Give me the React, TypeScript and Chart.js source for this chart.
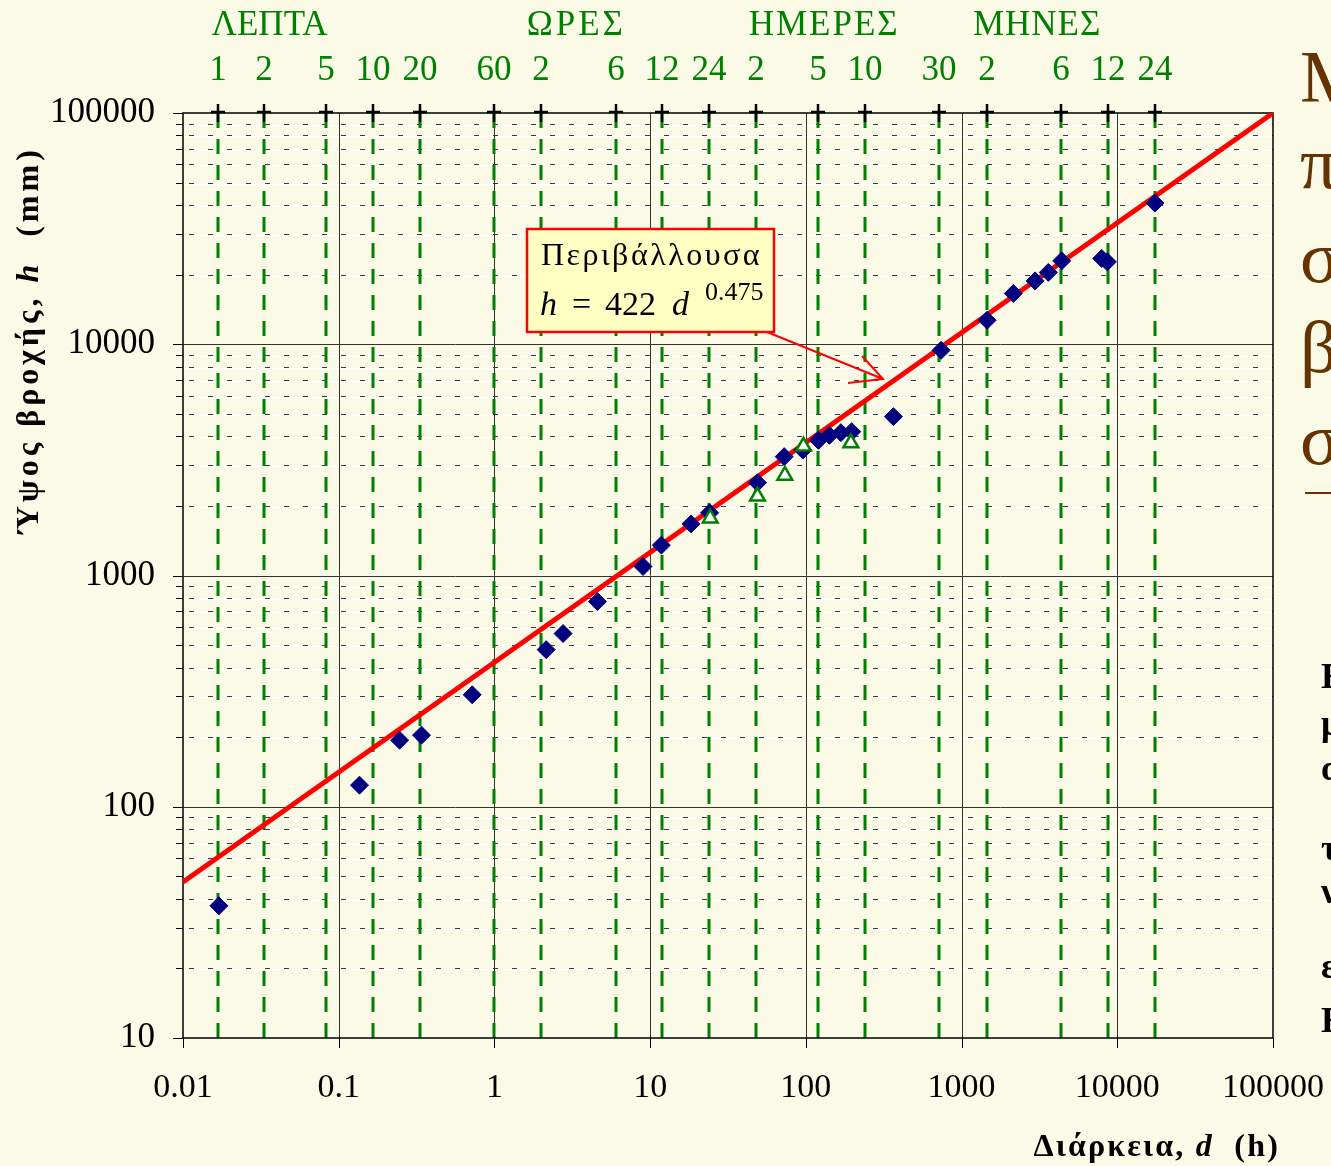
import React, { useEffect, useRef } from "react";
import { Chart, registerables } from "chart.js";

Chart.register(...registerables);

const W = 1331;
const H = 1166;
const BG = "#FAFAE6";
const SERIF = '"Liberation Serif", "Times New Roman", Times, serif';

// Observed maximum rainfall depths (diamonds): duration d (h), depth h (mm)
const diamondDuration = [
  0.017, 0.136, 0.246, 0.34, 0.72, 2.15, 2.76, 4.59, 9.0, 11.8, 18.3, 24.1,
  48.9, 72.6, 95.7, 120.5, 141.7, 167.8, 197, 365, 739, 1458, 2150, 2965, 3607,
  4397, 7943, 8630, 17460,
];
const diamondDepth = [
  37.3, 124, 194, 204, 305, 478, 561, 771, 1094, 1353, 1671, 1868, 2519, 3265,
  3486, 3841, 4036, 4147, 4188, 4864, 9418, 12700, 16580, 18790, 20440, 22940,
  23500, 22710, 40770,
];
// Second set (triangles)
const triangleDuration = [24.3, 48.9, 73.3, 96.5, 194.5];
const triangleDepth = [1770, 2200, 2710, 3620, 3740];
// Envelope line end points
const envelopeDuration = [0.01, 100000];
const envelopeDepth = [47.3, 100000];

const xTickValues = [0.01, 0.1, 1, 10, 100, 1000, 10000, 100000];
const yTickValues = [10, 100, 1000, 10000, 100000];

const minuteMarks = [1, 2, 5, 10, 20, 60];
const hourMarks = [2, 6, 12, 24];
const dayMarks = [2, 5, 10, 30];
const monthMarks = [2, 6, 12, 24];
const groupNames = ["ΛΕΠΤΑ", "ΩΡΕΣ", "ΗΜΕΡΕΣ", "ΜΗΝΕΣ"];
const HOURS_PER_MONTH = 730;

const annotationTitle = "Περιβάλλουσα";
const envelopeCoef = "422";
const envelopeExp = "0.475";

const sideBrown = ["Μ", "π", "σ", "β", "σ"];
const sideBlack = ["Ε", "μ", "α", "τ", "ν", "ε", "Ε"];

const groups = [
  { name: groupNames[0], marks: minuteMarks, factor: 1 / 60 },
  { name: groupNames[1], marks: hourMarks, factor: 1 },
  { name: groupNames[2], marks: dayMarks, factor: 24 },
  { name: groupNames[3], marks: monthMarks, factor: HOURS_PER_MONTH },
];

type Part = { text: string; font: string };

function drawParts(ctx: any, parts: Part[], x: number, y: number, align: "left" | "center" | "right", spacing = 0) {
  ctx.letterSpacing = `${spacing}px`;
  let total = 0;
  const widths = parts.map((p) => {
    ctx.font = p.font;
    const w = ctx.measureText(p.text).width;
    total += w;
    return w;
  });
  let cx = align === "left" ? x : align === "center" ? x - total / 2 : x - total;
  ctx.textAlign = "left";
  parts.forEach((p, i) => {
    ctx.font = p.font;
    ctx.fillText(p.text, cx, y);
    cx += widths[i];
  });
  ctx.letterSpacing = "0px";
}

const decorPlugin = {
  id: "decor",
  beforeDatasetsDraw(chart: any) {
    const { ctx, chartArea: a, scales } = chart;
    const xs = scales.x;
    const ys = scales.y;
    ctx.save();
    // minor horizontal grid
    for (let e = 1; e < 5; e++) {
      for (let k = 2; k <= 9; k++) {
        const y = Math.round(ys.getPixelForValue(k * Math.pow(10, e))) + 0.5;
        ctx.setLineDash([]);
        ctx.strokeStyle = "#FFFFFF";
        ctx.lineWidth = 1.5;
        ctx.beginPath();
        ctx.moveTo(a.left, y + 1);
        ctx.lineTo(a.right, y + 1);
        ctx.stroke();
        ctx.strokeStyle = "#3a3a3a";
        ctx.lineWidth = 1;
        ctx.setLineDash([5, 14]);
        ctx.beginPath();
        ctx.moveTo(a.left + 6, y);
        ctx.lineTo(a.right, y);
        ctx.stroke();
      }
    }
    ctx.setLineDash([]);
    // major grid
    ctx.strokeStyle = "#333333";
    ctx.lineWidth = 1;
    xTickValues.slice(1, -1).forEach((v) => {
      const x = Math.round(xs.getPixelForValue(v)) + 0.5;
      ctx.beginPath();
      ctx.moveTo(x, a.top);
      ctx.lineTo(x, a.bottom);
      ctx.stroke();
    });
    yTickValues.slice(1, -1).forEach((v) => {
      const y = Math.round(ys.getPixelForValue(v)) + 0.5;
      ctx.beginPath();
      ctx.moveTo(a.left, y);
      ctx.lineTo(a.right, y);
      ctx.stroke();
    });
    // green duration lines (dashes phased from the bottom axis)
    ctx.strokeStyle = "#008000";
    ctx.lineWidth = 3;
    ctx.setLineDash([15, 11]);
    groups.forEach((g) => {
      g.marks.forEach((m) => {
        const x = Math.round(xs.getPixelForValue(m * g.factor));
        ctx.beginPath();
        ctx.moveTo(x, a.bottom);
        ctx.lineTo(x, a.top);
        ctx.stroke();
      });
    });
    ctx.setLineDash([]);
    // frame
    ctx.strokeStyle = "#000000";
    ctx.lineWidth = 1.5;
    ctx.strokeRect(a.left, a.top, a.right - a.left, a.bottom - a.top);
    // y axis ticks
    ctx.lineWidth = 1;
    for (let e = 1; e <= 5; e++) {
      for (let k = 1; k <= 9; k++) {
        const v = k * Math.pow(10, e);
        if (v > 100000) break;
        const y = Math.round(ys.getPixelForValue(v)) + 0.5;
        ctx.beginPath();
        ctx.moveTo(a.left - (k === 1 ? 10 : 7), y);
        ctx.lineTo(a.left, y);
        ctx.stroke();
      }
    }
    // x axis ticks (decades)
    xTickValues.forEach((v) => {
      const x = Math.round(xs.getPixelForValue(v)) + 0.5;
      ctx.beginPath();
      ctx.moveTo(x, a.bottom);
      ctx.lineTo(x, a.bottom + 10);
      ctx.stroke();
    });
    ctx.restore();
  },
  afterDatasetsDraw(chart: any) {
    const { ctx } = chart;
    ctx.save();
    // annotation box
    const bx = 527, by = 229, bw = 247, bh = 103;
    ctx.fillStyle = "#FFFFC4";
    ctx.fillRect(bx, by, bw, bh);
    ctx.strokeStyle = "#FF0000";
    ctx.lineWidth = 2.5;
    ctx.strokeRect(bx, by, bw, bh);
    ctx.fillStyle = "#000000";
    ctx.textBaseline = "alphabetic";
    drawParts(ctx, [{ text: annotationTitle, font: `32px ${SERIF}` }], bx + bw / 2 + 1, by + 36, "center", 2.5);
    ctx.textAlign = "left";
    ctx.font = `italic 34px ${SERIF}`;
    ctx.fillText("h", bx + 13, by + 86);
    ctx.font = `34px ${SERIF}`;
    ctx.fillText("=", bx + 45, by + 86);
    ctx.fillText(envelopeCoef, bx + 78, by + 86);
    ctx.font = `italic 34px ${SERIF}`;
    ctx.fillText("d", bx + 145, by + 86);
    ctx.font = `26px ${SERIF}`;
    ctx.fillText(envelopeExp, bx + 178, by + 71);
    // arrow
    ctx.strokeStyle = "#FF0000";
    ctx.lineWidth = 2;
    ctx.beginPath();
    ctx.moveTo(bx + 240, by + bh);
    ctx.lineTo(883, 379);
    ctx.moveTo(862, 356);
    ctx.lineTo(883, 379);
    ctx.lineTo(848, 383);
    ctx.stroke();
    ctx.restore();
  },
  afterDraw(chart: any) {
    const { ctx, chartArea: a, scales } = chart;
    const xs = scales.x;
    ctx.save();
    // top "+" marks and labels
    ctx.textBaseline = "alphabetic";
    ctx.textAlign = "center";
    const groupOffsets = [52, 35, 68, 50];
    const groupSpacing = [0, 3, 2, 1];
    groups.forEach((g, gi) => {
      g.marks.forEach((m) => {
        const x = Math.round(xs.getPixelForValue(m * g.factor));
        ctx.fillStyle = "#008000";
        ctx.font = `35px ${SERIF}`;
        ctx.textAlign = "center";
        ctx.fillText(String(m), x, 80);
        ctx.strokeStyle = "#000000";
        ctx.lineWidth = 2.5;
        ctx.beginPath();
        ctx.moveTo(x, a.top - 9);
        ctx.lineTo(x, a.top + 9);
        ctx.moveTo(x - 7, a.top - 1);
        ctx.lineTo(x + 7, a.top - 1);
        ctx.stroke();
      });
      const x0 = xs.getPixelForValue(g.marks[0] * g.factor);
      ctx.fillStyle = "#008000";
      drawParts(ctx, [{ text: g.name, font: `35px ${SERIF}` }], x0 + groupOffsets[gi], 35, "center", groupSpacing[gi]);
    });
    // axis titles
    ctx.fillStyle = "#000000";
    ctx.save();
    ctx.translate(38, 340);
    ctx.rotate(-Math.PI / 2);
    drawParts(
      ctx,
      [
        { text: "Ύψος βροχής, ", font: `bold 32px ${SERIF}` },
        { text: "h", font: `bold italic 32px ${SERIF}` },
        { text: "  (mm)", font: `bold 32px ${SERIF}` },
      ],
      0,
      0,
      "center",
      4
    );
    ctx.restore();
    drawParts(
      ctx,
      [
        { text: "Διάρκεια, ", font: `bold 32px ${SERIF}` },
        { text: "d", font: `bold italic 32px ${SERIF}` },
        { text: "  (h)", font: `bold 32px ${SERIF}` },
      ],
      1280,
      1156,
      "right",
      2.2
    );
    // clipped slide text at the right
    ctx.fillStyle = "#663300";
    ctx.font = `74px ${SERIF}`;
    ctx.textAlign = "left";
    const brownBase = [102, 188, 282, 372, 464];
    sideBrown.forEach((c, i) => ctx.fillText(c, 1300, brownBase[i]));
    ctx.fillRect(1305, 492, 30, 2);
    ctx.fillStyle = "#000000";
    ctx.font = `bold 36px ${SERIF}`;
    const blackBase = [688, 735, 780, 860, 903, 978, 1032];
    sideBlack.forEach((c, i) => ctx.fillText(c, 1321, blackBase[i]));
    ctx.restore();
  },
};

export default function App() {
  const ref = useRef<HTMLCanvasElement>(null);
  useEffect(() => {
    document.body.style.margin = "0";
    const canvas = ref.current;
    if (!canvas) return;
    const chart = new Chart(canvas, {
      type: "scatter",
      data: {
        datasets: [
          {
            label: "triangles",
            data: triangleDuration.map((d, i) => ({ x: d, y: triangleDepth[i] })),
            pointStyle: "triangle",
            pointRadius: 8.5,
            pointBackgroundColor: "#FFFFFF",
            pointBorderColor: "#008000",
            pointBorderWidth: 2.5,
            showLine: false,
          },
          {
            label: "diamonds",
            data: diamondDuration.map((d, i) => ({ x: d, y: diamondDepth[i] })),
            pointStyle: "rectRot",
            pointRadius: 9,
            pointBackgroundColor: "#000080",
            pointBorderColor: "#000080",
            pointBorderWidth: 1,
            showLine: false,
          },
          {
            label: "envelope",
            data: envelopeDuration.map((d, i) => ({ x: d, y: envelopeDepth[i] })),
            showLine: true,
            borderColor: "#FF0000",
            borderWidth: 5,
            pointRadius: 0,
            fill: false,
          },
        ],
      } as any,
      options: {
        animation: false,
        responsive: false,
        devicePixelRatio: 1,
        events: [],
        layout: { padding: { top: 113, right: 58, bottom: 0, left: 0 } },
        plugins: { legend: { display: false }, tooltip: { enabled: false } },
        scales: {
          x: {
            type: "logarithmic",
            min: 0.01,
            max: 100000,
            afterBuildTicks: (s: any) => {
              s.ticks = xTickValues.map((v) => ({ value: v }));
            },
            afterFit: (s: any) => {
              s.height = 128;
            },
            grid: { display: false, drawTicks: true, tickLength: 30 },
            border: { display: false },
            ticks: {
              padding: 0,
              autoSkip: false,
              maxRotation: 0,
              color: "#000000",
              font: { family: SERIF, size: 34 },
              callback: (v: any) => String(v),
            },
          },
          y: {
            type: "logarithmic",
            min: 10,
            max: 100000,
            afterBuildTicks: (s: any) => {
              s.ticks = yTickValues.map((v) => ({ value: v }));
            },
            afterFit: (s: any) => {
              s.width = 183;
            },
            grid: { display: false, drawTicks: true, tickLength: 28 },
            border: { display: false },
            ticks: {
              padding: 0,
              autoSkip: false,
              color: "#000000",
              font: { family: SERIF, size: 35 },
              callback: (v: any) => String(v),
            },
          },
        },
      } as any,
      plugins: [decorPlugin],
    });
    return () => chart.destroy();
  }, []);
  return (
    <div style={{ position: "fixed", left: 0, top: 0, width: W, height: H, background: BG, overflow: "hidden" }}>
      <canvas ref={ref} width={W} height={H} style={{ display: "block", width: W, height: H }} />
    </div>
  );
}
